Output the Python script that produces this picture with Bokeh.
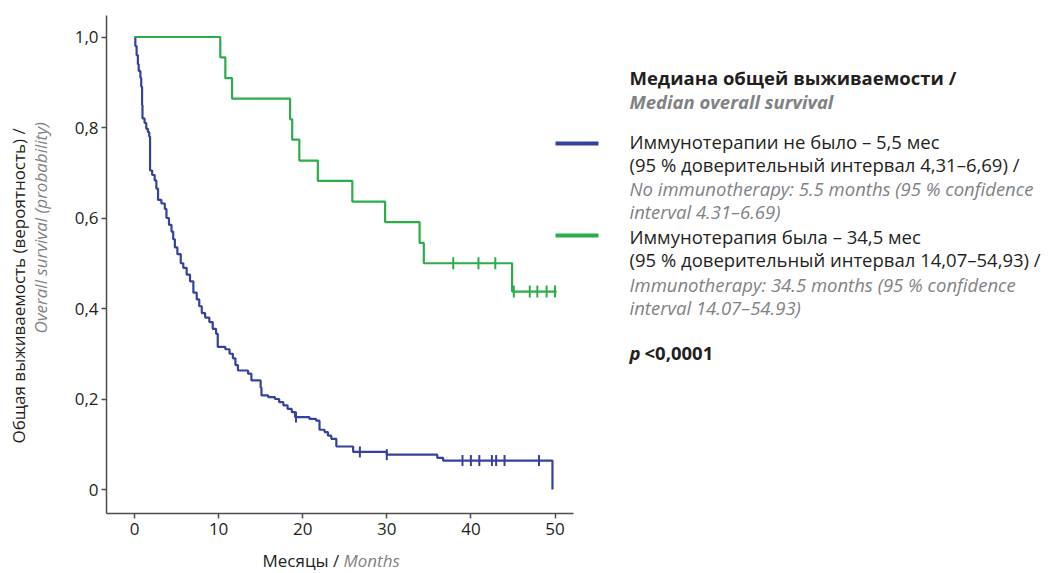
import numpy as np
from bokeh.plotting import figure
from bokeh.models import Label, Range1d, FixedTicker
from bokeh.embed import file_html
from bokeh.resources import INLINE

# ---- data: Kaplan–Meier curves (months, survival probability) ----
no_immuno_t = [0, 0.1, 0.25, 0.4, 0.5, 0.7, 0.8, 0.9, 0.95, 1.2, 1.4, 1.6, 1.75, 1.85, 2.1,
               2.4, 2.6, 2.8, 3.2, 3.6, 3.8, 4.1, 4.4, 4.6, 4.8, 5.1, 5.5, 5.8, 6.2, 6.6,
               7.0, 7.4, 7.7, 8.0, 8.4, 8.9, 9.3, 9.7, 9.9, 10.8, 11.3, 11.7, 12.0, 12.3, 13.5,
               13.9, 15.0, 15.1, 15.9, 16.7, 17.2, 17.7, 18.2, 18.7, 19.1, 20.8, 21.6, 22.0, 22.6,
               23.0, 23.4, 24.0, 26.0, 30.0, 36.0, 36.7, 49.7]
no_immuno_s = [1.0, 0.98, 0.96, 0.94, 0.925, 0.91, 0.89, 0.85, 0.82, 0.81, 0.797, 0.79, 0.78, 0.705, 0.695,
               0.683, 0.665, 0.64, 0.632, 0.62, 0.60, 0.585, 0.57, 0.553, 0.535, 0.52, 0.50, 0.49, 0.475, 0.46,
               0.435, 0.42, 0.405, 0.39, 0.38, 0.37, 0.355, 0.344, 0.315, 0.31, 0.30, 0.29, 0.275, 0.263, 0.256,
               0.241, 0.225, 0.208, 0.204, 0.200, 0.193, 0.186, 0.178, 0.171, 0.16, 0.156, 0.152, 0.132, 0.127,
               0.119, 0.112, 0.095, 0.083, 0.077, 0.07, 0.064, 0.0]
no_immuno_cens_t = [19.2, 26.8, 30.0, 39.0, 40.0, 41.0, 42.5, 43.0, 44.0, 48.1]
no_immuno_cens_s = [0.16, 0.083, 0.077, 0.064, 0.064, 0.064, 0.064, 0.064, 0.064, 0.064]

immuno_t = [0, 10.2, 10.8, 11.6, 18.5, 18.75, 19.6, 21.8, 25.9, 29.8, 33.9, 34.4, 44.9, 50.2]
immuno_s = [1.0, 0.955, 0.909, 0.864, 0.818, 0.773, 0.727, 0.682, 0.636, 0.591, 0.545, 0.5, 0.4375, 0.4375]
immuno_cens_t = [37.9, 40.9, 42.9, 45.1, 47.0, 47.9, 49.0, 50.0]
immuno_cens_s = [0.5, 0.5, 0.5, 0.4375, 0.4375, 0.4375, 0.4375, 0.4375]

x_ticks = [0, 10, 20, 30, 40, 50]
y_ticks = [0, 0.2, 0.4, 0.6, 0.8, 1.0]
y_tick_labels = ["0", "0,2", "0,4", "0,6", "0,8", "1,0"]

BLUE = "#34429c"
GREEN = "#2bae4a"
INK = "#231f20"
GREY = "#808285"
FONT = "Open Sans"

# ---- layout: the frame fills the canvas, axes sit at fixed positions ----
W, H = 1050, 573
AX_LEFT, AX_RIGHT, AX_TOP, AX_BOTTOM = 106, 573, 15, 513
X0_PX, X_PER = 134, 8.41     # pixel of month 0, pixels per month
Y0_PX, Y_PER = 489, 452.5    # pixel of probability 0, pixels per unit


def sx(px):
    return (px - X0_PX) / X_PER


def sy(py):
    return (Y0_PX - py) / Y_PER


p = figure(width=W, height=H, output_backend="svg", toolbar_location=None,
           x_range=Range1d(sx(0), sx(W)), y_range=Range1d(sy(H), sy(0)),
           min_border_left=0, min_border_right=0, min_border_top=0,
           min_border_bottom=0)
p.outline_line_color = None
p.xgrid.visible = False
p.ygrid.visible = False
p.background_fill_color = "white"
p.border_fill_color = "white"

# axes
for ax in (p.xaxis[0], p.yaxis[0]):
    ax.axis_line_color = "#4d4d4d"
    ax.axis_line_width = 1.5
    ax.major_tick_line_color = "#4d4d4d"
    ax.major_tick_line_width = 1.5
    ax.major_tick_out = 5
    ax.major_tick_in = 0
    ax.minor_tick_line_color = None
    ax.major_label_text_font = FONT
    ax.major_label_text_font_size = "17px"
    ax.major_label_text_color = INK

p.xaxis.fixed_location = sy(AX_BOTTOM)
p.xaxis.bounds = (sx(AX_LEFT), sx(AX_RIGHT))
p.xaxis.ticker = FixedTicker(ticks=x_ticks)
p.xaxis.major_label_standoff = 4
p.yaxis.fixed_location = sx(AX_LEFT)
p.yaxis.bounds = (sy(AX_BOTTOM), sy(AX_TOP))
p.yaxis.ticker = FixedTicker(ticks=y_ticks)
p.yaxis.major_label_overrides = {t: l for t, l in zip(y_ticks, y_tick_labels)}
p.yaxis.major_label_standoff = 3

# curves
p.step(no_immuno_t, no_immuno_s, mode="after", line_color=BLUE, line_width=2.2)
p.step(immuno_t, immuno_s, mode="after", line_color=GREEN, line_width=2.2)
p.scatter(no_immuno_cens_t, no_immuno_cens_s, marker="dash", angle=np.pi / 2,
          size=11, line_color=BLUE, line_width=2)
p.scatter(immuno_cens_t, immuno_cens_s, marker="dash", angle=np.pi / 2,
          size=12, line_color=GREEN, line_width=2)

# legend swatches
p.segment(x0=[sx(555)], y0=[sy(143)], x1=[sx(598)], y1=[sy(143)], line_color=BLUE, line_width=4)
p.segment(x0=[sx(555)], y0=[sy(235)], x1=[sx(598)], y1=[sy(235)], line_color=GREEN, line_width=4)


def txt(px, py, s, color=INK, style="normal", size="18.5px", angle=0, align="left"):
    p.add_layout(Label(x=sx(px), y=sy(py), text=s, text_color=color, text_font=FONT,
                       text_font_style=style, text_font_size=size, text_baseline="middle",
                       text_align=align, angle=angle))


LX = 629
txt(LX, 77, "Медиана общей выживаемости /", style="bold")
txt(LX, 101, "Median overall survival", color=GREY, style="bold italic")
txt(LX, 141, "Иммунотерапии не было – 5,5 мес")
txt(LX, 164, "(95 % доверительный интервал 4,31–6,69) /")
txt(LX, 188, "No immunotherapy: 5.5 months (95 % confidence", color=GREY, style="italic")
txt(LX, 211, "interval 4.31–6.69)", color=GREY, style="italic")
txt(LX, 236, "Иммунотерапия была – 34,5 мес")
txt(LX, 259, "(95 % доверительный интервал 14,07–54,93) /")
txt(LX, 284, "Immunotherapy: 34.5 months (95 % confidence", color=GREY, style="italic")
txt(LX, 307, "interval 14.07–54.93)", color=GREY, style="italic")
txt(LX, 352, "p", style="bold italic")
txt(LX + 15, 352, "<0,0001", style="bold")

# axis titles
txt(262, 560, "Месяцы /", size="17px")
txt(343, 560, "Months", color=GREY, style="italic", size="17px")
txt(18, 443, "Общая выживаемость (вероятность) /", angle=np.pi / 2, size="17px")
txt(40, 333, "Overall survival (probability)", color=GREY, style="italic",
    angle=np.pi / 2, size="17px")

open("out.html", "w").write(file_html(p, INLINE))
